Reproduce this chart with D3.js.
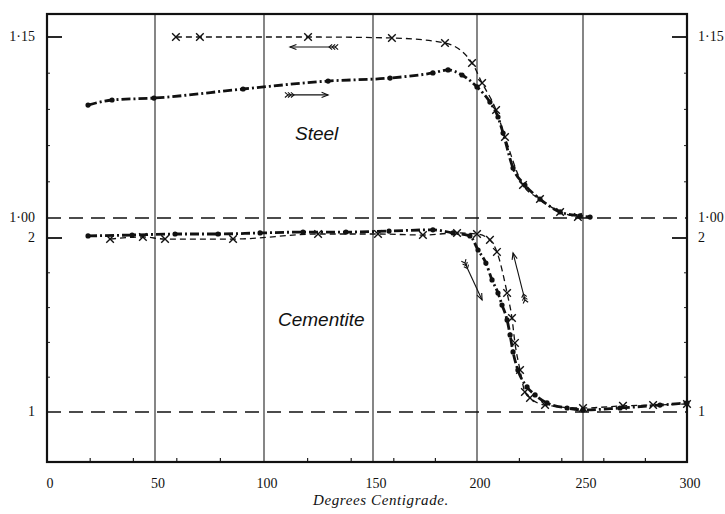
<!DOCTYPE html>
<html>
<head>
<meta charset="utf-8">
<script src="https://cdn.jsdelivr.net/npm/d3@7"></script>
<style>
  body { margin: 0; background: #fff; }
  svg { display: block; }
  .tick-label { font-family: "Liberation Serif", "DejaVu Serif", serif; font-size: 14px; fill: #111; }
  .curve-label { font-family: "Liberation Sans", Arial, sans-serif; font-style: italic; font-size: 19px; fill: #111; }
</style>
</head>
<body>
<div id="chart"></div>
<script>
// ---------- data (temperature in deg C) ----------
const steelHeatT = [19, 30.1, 49.5, 90.4, 129.4, 158.2, 178.8, 186.1, 192.8, 200, 206.1, 209.9, 212.3, 217, 222.6, 229.7, 239.2, 248.6, 253.4];
const steelHeatV = [1.0936, 1.0978, 1.0994, 1.1069, 1.1135, 1.116, 1.1202, 1.1227, 1.1185, 1.1086, 1.0961, 1.0837, 1.0704, 1.0414, 1.0273, 1.0157, 1.005, 1.0017, 1.0008];

const steelCoolT = [59.6, 70.6, 120.2, 159.1, 184.6, 197.6, 202.4, 209, 213.2, 221.7, 229.7, 239.2, 247.6];
const steelCoolV = [1.15, 1.15, 1.15, 1.1492, 1.145, 1.1285, 1.1119, 1.0895, 1.0671, 1.0273, 1.0157, 1.005, 1.0008];

const cemHeatT = [19, 39.4, 59.2, 78.9, 98.2, 117.9, 137.6, 157.7, 178.8, 188.5, 196.6, 200.5, 204.2, 207.1, 209.9, 211.8, 214.2, 215.6, 217, 219.3, 223.6, 227.4, 233, 242.5, 250, 267.8, 287, 300];
const cemHeatV = [2.012, 2.017, 2.023, 2.023, 2.029, 2.034, 2.034, 2.04, 2.047, 2.029, 2.012, 1.931, 1.856, 1.759, 1.684, 1.615, 1.529, 1.443, 1.345, 1.241, 1.144, 1.098, 1.052, 1.023, 1.012, 1.023, 1.04, 1.052];

const cemCoolT = [29.2, 44.4, 54.6, 85.8, 124.8, 152.4, 174, 190.4, 200, 206.1, 209.4, 214.2, 216.5, 217.9, 220.3, 222.6, 225, 232.1, 250, 269.2, 283.7, 300];
const cemCoolV = [1.994, 2.006, 1.994, 1.994, 2.023, 2.023, 2.017, 2.029, 2.023, 1.989, 1.92, 1.684, 1.54, 1.397, 1.241, 1.115, 1.081, 1.04, 1.023, 1.035, 1.04, 1.046];

const xTicks = [0, 50, 100, 150, 200, 250, 300];
const xMinorTicks = [20, 40, 60, 80, 120, 140, 160, 180, 220, 240, 260, 280];
const steelTicks = [{ v: 1.15, label: "1·15" }, { v: 1.00, label: "1·00" }];
const cemTicks = [{ v: 2, label: "2" }, { v: 1, label: "1" }];
const cemMinorTicks = [1.2, 1.4, 1.6, 1.8];
const steelMinorTicks = [1.03, 1.06, 1.09, 1.12];

// arrows: [fromT, fromV, toT, toV]
const steelArrows = [[132.6, 1.1417, 111.9, 1.1417], [111, 1.102, 129.4, 1.102]];
const cemArrows = [[194.2, 1.856, 202.4, 1.644], [222.6, 1.644, 217, 1.914]];

// ---------- layout ----------
const width = 725, height = 514;
const plotLeft = 47, plotRight = 687, plotTop = 14, plotBottom = 462;

// the printed grid is not quite even, so the scale follows the plate's 50-degree lines
const x = d3.scaleLinear()
  .domain(xTicks)
  .range([plotLeft, 155, 264, 373, 477, 583, plotRight]);
const ySteel = d3.scaleLinear().domain([1.00, 1.15]).range([218, 37]);
const yCem = d3.scaleLinear().domain([1, 2]).range([412, 238]);

const svg = d3.select("#chart").append("svg")
  .attr("width", width)
  .attr("height", height);

// vertical grid lines at the 50s
svg.append("g")
  .selectAll("line")
  .data(xTicks.slice(1, -1))
  .join("line")
    .attr("x1", d => x(d)).attr("x2", d => x(d))
    .attr("y1", plotTop).attr("y2", plotBottom)
    .attr("stroke", "#222")
    .attr("stroke-width", 1.1);

// minor ticks along the bottom, pointing up
svg.append("g")
  .selectAll("line")
  .data(xMinorTicks)
  .join("line")
    .attr("x1", d => x(d)).attr("x2", d => x(d))
    .attr("y1", plotBottom).attr("y2", plotBottom - 4)
    .attr("stroke", "#222")
    .attr("stroke-width", 1.2);

// small ticks on both side borders
const sideMinor = steelMinorTicks.map(ySteel).concat(cemMinorTicks.map(yCem));
[[plotLeft, 3], [plotRight, -3]].forEach(([bx, dx]) => {
  svg.append("g")
    .selectAll("line")
    .data(sideMinor)
    .join("line")
      .attr("x1", bx).attr("x2", bx + dx)
      .attr("y1", d => d).attr("y2", d => d)
      .attr("stroke", "#222")
      .attr("stroke-width", 1);
});

// dashed base lines for 1.00 (steel) and 1 (cementite)
[ySteel(1.00), yCem(1)].forEach(yy => {
  svg.append("line")
    .attr("x1", plotLeft).attr("x2", plotRight)
    .attr("y1", yy).attr("y2", yy)
    .attr("stroke", "#111")
    .attr("stroke-width", 1.6)
    .attr("stroke-dasharray", "14,8");
});

// major ticks at 1.15 and 2, on both sides
[ySteel(1.15), yCem(2)].forEach(yy => {
  svg.append("line").attr("x1", plotLeft).attr("x2", plotLeft + 15).attr("y1", yy).attr("y2", yy)
    .attr("stroke", "#111").attr("stroke-width", 1.8);
  svg.append("line").attr("x1", plotRight - 15).attr("x2", plotRight).attr("y1", yy).attr("y2", yy)
    .attr("stroke", "#111").attr("stroke-width", 1.8);
});

// frame
svg.append("rect")
  .attr("x", plotLeft).attr("y", plotTop)
  .attr("width", plotRight - plotLeft).attr("height", plotBottom - plotTop)
  .attr("fill", "none")
  .attr("stroke", "#111")
  .attr("stroke-width", 2.2);

// ---------- curves ----------
const zip = (ts, vs) => ts.map((t, i) => ({ t, v: vs[i] }));

const drawSeries = (pts, yScale, kind) => {
  const line = d3.line()
    .x(d => x(d.t))
    .y(d => yScale(d.v))
    .curve(d3.curveMonotoneX);

  const g = svg.append("g");

  g.append("path")
    .datum(pts)
    .attr("d", line)
    .attr("fill", "none")
    .attr("stroke", "#111")
    .attr("stroke-width", kind === "heat" ? 2.8 : 1.3)
    .attr("stroke-dasharray", kind === "heat" ? "9,3,2,3" : "6,4");

  if (kind === "heat") {
    g.selectAll("circle")
      .data(pts)
      .join("circle")
        .attr("cx", d => x(d.t))
        .attr("cy", d => yScale(d.v))
        .attr("r", 2.6)
        .attr("fill", "#111");
  } else {
    const s = 3.8;
    g.selectAll("path.cross")
      .data(pts)
      .join("path")
        .attr("class", "cross")
        .attr("d", d => {
          const cx = x(d.t), cy = yScale(d.v);
          return `M${cx - s},${cy - s}L${cx + s},${cy + s}M${cx - s},${cy + s}L${cx + s},${cy - s}`;
        })
        .attr("stroke", "#111")
        .attr("stroke-width", 1.4)
        .attr("fill", "none");
  }
};

drawSeries(zip(steelCoolT, steelCoolV), ySteel, "cool");
drawSeries(zip(steelHeatT, steelHeatV), ySteel, "heat");
drawSeries(zip(cemCoolT, cemCoolV), yCem, "cool");
drawSeries(zip(cemHeatT, cemHeatV), yCem, "heat");

// ---------- feathered arrows ----------
const drawArrow = (a, yScale) => {
  const x1 = x(a[0]), y1 = yScale(a[1]), x2 = x(a[2]), y2 = yScale(a[3]);
  const ang = Math.atan2(y2 - y1, x2 - x1);
  const g = svg.append("g")
    .attr("stroke", "#111")
    .attr("stroke-width", 1.1)
    .attr("fill", "none");

  g.append("line").attr("x1", x1).attr("y1", y1).attr("x2", x2).attr("y2", y2);

  // open arrow head
  const h = 7, spread = 0.38;
  g.append("path")
    .attr("d", `M${x2 - h * Math.cos(ang - spread)},${y2 - h * Math.sin(ang - spread)}L${x2},${y2}L${x2 - h * Math.cos(ang + spread)},${y2 - h * Math.sin(ang + spread)}`);

  // feathers at the tail
  [0, 3, 6].forEach(k => {
    const bx = x1 + k * Math.cos(ang), by = y1 + k * Math.sin(ang);
    const f = 4;
    g.append("path")
      .attr("d", `M${bx - f * Math.cos(ang - 0.7)},${by - f * Math.sin(ang - 0.7)}L${bx},${by}L${bx - f * Math.cos(ang + 0.7)},${by - f * Math.sin(ang + 0.7)}`);
  });
};

steelArrows.forEach(a => drawArrow(a, ySteel));
cemArrows.forEach(a => drawArrow(a, yCem));

// ---------- text ----------
svg.append("g")
  .selectAll("text")
  .data(xTicks)
  .join("text")
    .attr("class", "tick-label")
    .attr("x", d => x(d) + 3)
    .attr("y", 488)
    .attr("text-anchor", "middle")
    .text(d => d);

const yLabels = steelTicks.map(d => ({ y: ySteel(d.v), label: d.label }))
  .concat(cemTicks.map(d => ({ y: yCem(d.v), label: d.label })));

svg.append("g")
  .selectAll("text")
  .data(yLabels)
  .join("text")
    .attr("class", "tick-label")
    .attr("x", 35)
    .attr("y", d => d.y + 4)
    .attr("text-anchor", "end")
    .text(d => d.label);

svg.append("g")
  .selectAll("text")
  .data(yLabels)
  .join("text")
    .attr("class", "tick-label")
    .attr("x", 698)
    .attr("y", d => d.y + 4)
    .text(d => d.label);

svg.append("text")
  .attr("x", 381)
  .attr("y", 505)
  .attr("text-anchor", "middle")
  .style("font-family", "'Liberation Serif', serif")
  .style("font-style", "italic")
  .style("font-size", "15px")
  .style("letter-spacing", "0.6px")
  .attr("fill", "#111")
  .text("Degrees Centigrade.");

svg.append("text")
  .attr("class", "curve-label")
  .attr("x", 295)
  .attr("y", 140)
  .text("Steel");

svg.append("text")
  .attr("class", "curve-label")
  .attr("x", 278)
  .attr("y", 326)
  .text("Cementite");
</script>
</body>
</html>
